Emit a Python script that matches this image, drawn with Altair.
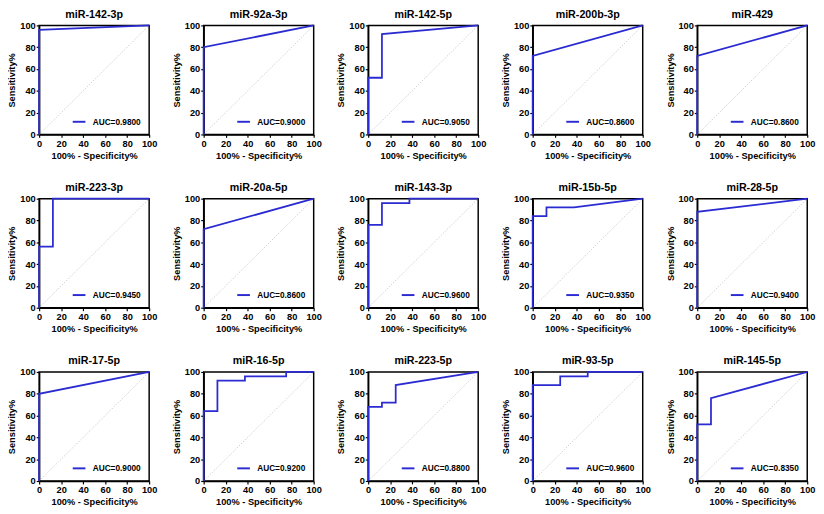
import altair as alt
import pandas as pd

names = ["miR-142-3p", "miR-92a-3p", "miR-142-5p", "miR-200b-3p", "miR-429",
         "miR-223-3p", "miR-20a-5p", "miR-143-3p", "miR-15b-5p", "miR-28-5p",
         "miR-17-5p", "miR-16-5p", "miR-223-5p", "miR-93-5p", "miR-145-5p"]

auc_labels = ["AUC=0.9800", "AUC=0.9000", "AUC=0.9050", "AUC=0.8600", "AUC=0.8600",
              "AUC=0.9450", "AUC=0.8600", "AUC=0.9600", "AUC=0.9350", "AUC=0.9400",
              "AUC=0.9000", "AUC=0.9200", "AUC=0.8800", "AUC=0.9600", "AUC=0.8350"]

# 100% - Specificity% (x) and Sensitivity% (y) of each ROC curve
fpr = [
    [0, 0, 100],
    [0, 0, 100],
    [0, 0, 12.5, 12.5, 100],
    [0, 0, 100],
    [0, 0, 100],
    [0, 0, 12.5, 12.5, 100],
    [0, 0, 100],
    [0, 0, 12.5, 12.5, 37.5, 37.5, 100],
    [0, 0, 12.5, 12.5, 37.5, 100],
    [0, 0, 100],
    [0, 0, 100],
    [0, 0, 12.5, 12.5, 37.5, 37.5, 75, 75, 100],
    [0, 0, 12.5, 12.5, 25, 25, 100],
    [0, 0, 25, 25, 50, 50, 100],
    [0, 0, 12.5, 12.5, 100],
]
tpr = [
    [0, 96, 100],
    [0, 80, 100],
    [0, 52, 52, 92, 100],
    [0, 72, 100],
    [0, 72, 100],
    [0, 56, 56, 100, 100],
    [0, 72, 100],
    [0, 76, 76, 96, 96, 100, 100],
    [0, 84, 84, 92, 92, 100],
    [0, 88, 100],
    [0, 80, 100],
    [0, 64, 64, 92, 92, 96, 96, 100, 100],
    [0, 68, 68, 72, 72, 88, 100],
    [0, 88, 88, 96, 96, 100, 100],
    [0, 52, 52, 76, 100],
]

diag_x = [0, 100]
diag_y = [0, 100]
ticks = [0, 20, 40, 60, 80, 100]

BLUE = "#2B2BD2"

panels = []
for k, name in enumerate(names):
    roc = pd.DataFrame({"x": fpr[k], "y": tpr[k], "i": list(range(len(fpr[k]))),
                        "lab": auc_labels[k]})
    diag = pd.DataFrame({"x": diag_x, "y": diag_y})
    xenc = alt.X("x:Q", scale=alt.Scale(domain=[0, 100], nice=False),
                 axis=alt.Axis(values=ticks, title="100% - Specificity%", labelFlush=False))
    yenc = alt.Y("y:Q", scale=alt.Scale(domain=[0, 100], nice=False),
                 axis=alt.Axis(values=ticks, title="Sensitivity%"))
    d = alt.Chart(diag).mark_line(color="#BDBDBD", strokeWidth=0.7,
                                  strokeDash=[1.5, 1.5]).encode(x=xenc, y=yenc)
    r = alt.Chart(roc).mark_line(strokeWidth=1.8, interpolate="linear").encode(
        x=xenc, y=yenc, order="i:Q",
        color=alt.Color("lab:N", scale=alt.Scale(domain=[auc_labels[k]], range=[BLUE]),
                        legend=alt.Legend(title=None, orient="bottom-right", offset=8,
                                          symbolType="stroke", symbolStrokeWidth=2,
                                          symbolSize=170, labelFontSize=8.5,
                                          labelFontWeight="bold", labelColor="black",
                                          labelFont="Liberation Sans", padding=0,
                                          labelOffset=6)))
    panels.append(alt.layer(d, r).properties(
        width=113, height=112,
        title=alt.TitleParams(name, fontSize=11, fontWeight="bold", frame="group",
                              font="Liberation Sans", color="black", offset=1)))

chart = alt.concat(*panels, columns=5, spacing={"row": 21, "column": 13}).resolve_scale(
    color="independent").resolve_legend(color="independent").properties(
    padding={"top": -7, "left": -2, "right": 0, "bottom": 0}).configure_view(
    stroke="black", strokeWidth=1.5).configure_axis(
    grid=False, domainColor="black", domainWidth=1.5, tickColor="black", tickWidth=1.2,
    tickSize=3, labelPadding=1, labelFontSize=9.5, labelFontWeight="bold",
    labelColor="black", labelFont="Liberation Sans", titleFontSize=9.5,
    titleFontWeight="bold", titleColor="black", titleFont="Liberation Sans",
    titlePadding=3)

chart.save("out.html", embed_options={"renderer": "svg", "actions": False})
